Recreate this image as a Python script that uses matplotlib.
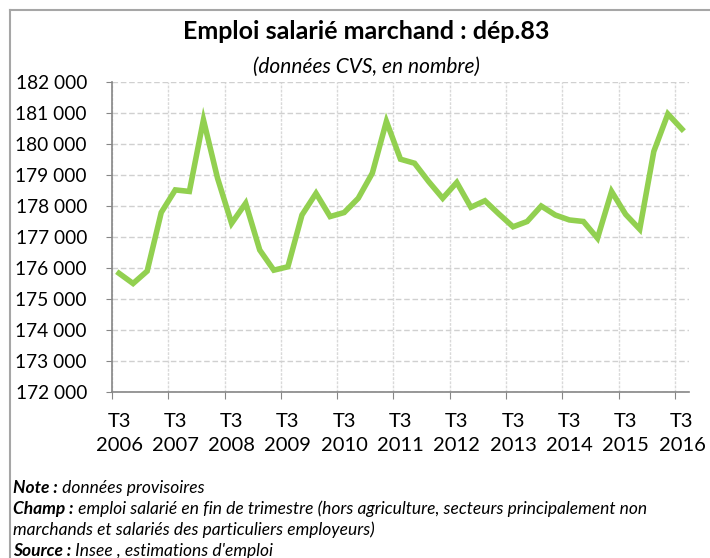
import matplotlib.pyplot as plt
from matplotlib.lines import Line2D
from matplotlib.ticker import FuncFormatter

plt.rcParams['font.family'] = ['Lato', 'DejaVu Sans']

# emploi salarié marchand, Var (83), T3 2006 -> T3 2016, données CVS
emploi = [175830, 175500, 175900, 177790, 178520, 178470, 180780, 178900,
          177440, 178090, 176580, 175930, 176040, 177710, 178410, 177660,
          177790, 178250, 179060, 180730, 179510, 179380, 178790, 178250,
          178760, 177960, 178170, 177740, 177330, 177500, 178000, 177710,
          177550, 177500, 176960, 178470, 177730, 177250, 179760, 180970,
          180480]
annees = list(range(2006, 2017))
x_labels = [f"T3\n{a}" for a in annees]

fig = plt.figure(figsize=(7.10, 5.58), dpi=100)
ax = fig.add_axes([0.1577, 0.2975, 0.8127, 0.5555])

x = list(range(len(emploi)))
ax.plot(x, emploi, color="#92d050", lw=4, solid_joinstyle="miter")

ax.set_xlim(-0.5, len(emploi) - 0.5)
ax.set_ylim(172000, 182000)
ax.set_yticks(range(172000, 182001, 1000))
ax.yaxis.set_major_formatter(FuncFormatter(lambda v, p: f"{int(v):,}".replace(",", " ")))

# ticks between categories, labels on every T3
ax.set_xticks([i - 0.5 for i in range(0, len(emploi) + 1, 4)])
ax.set_xticks(range(0, len(emploi), 4), minor=True)
ax.set_xticklabels([])
ax.set_xticklabels(x_labels, minor=True)
ax.tick_params(axis="x", which="minor", length=0, pad=15, labelsize=14.5,
               labelcolor="black")
ax.tick_params(axis="x", which="major", length=5, color="#868686")
ax.tick_params(axis="y", length=4, color="#868686", labelsize=13.8, pad=14)
for lab in ax.get_xticklabels(minor=True):
    lab.set_linespacing(1.5)

ax.grid(axis="y", color="#d0d0d0", ls=(0, (4, 2)), lw=1)
ax.grid(axis="x", which="major", color="#d9d9d9", ls=(0, (2, 1)), lw=1)
for s in ["top", "right"]:
    ax.spines[s].set_visible(False)
for s in ["left", "bottom"]:
    ax.spines[s].set_color("#868686")
    ax.spines[s].set_linewidth(1.2)

fig.text(0.516, 0.944, "Emploi salarié marchand : dép.83", ha="center", va="center",
         fontsize=18, fontweight="bold")
fig.text(0.516, 0.881, "(données CVS, en nombre)", ha="center", va="center",
         fontsize=15, style="italic")

# notes
notes = [("Note :", " données provisoires"),
         ("Champ :", " emploi salarié en fin de trimestre (hors agriculture, secteurs principalement non"),
         ("", "marchands et salariés des particuliers employeurs)"),
         ("Source :", " Insee , estimations d'emploi")]
ys = [488, 509, 530, 551]
for (b, t), yy in zip(notes, ys):
    yf = 1 - yy / 558
    tx = 13 / 710
    if b:
        bt = fig.text(tx, yf, b, fontsize=12.5, fontweight="bold", style="italic", va="center")
        fig.canvas.draw()
        bb = bt.get_window_extent()
        tx = bb.x1 / 710
    fig.text(tx, yf, t, fontsize=12.5, style="italic", va="center")

# cadre
fig.add_artist(Line2D([10 / 710, 1], [1 - 10 / 558] * 2, color="#a6a6a6", lw=1.5))
fig.add_artist(Line2D([10 / 710] * 2, [0, 1 - 10 / 558], color="#a6a6a6", lw=1.5))

fig.savefig("out.png", dpi=100)
